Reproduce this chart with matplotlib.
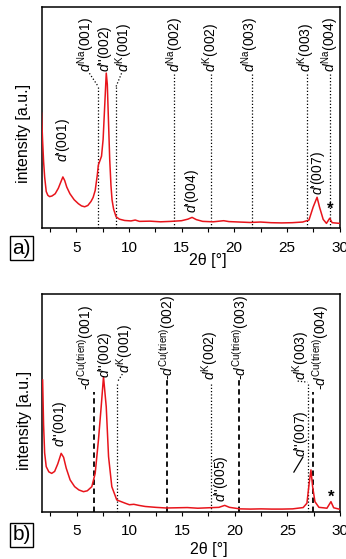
import matplotlib
matplotlib.use('Agg')
import matplotlib.pyplot as plt

plt.rcParams['font.family'] = ['Liberation Sans', 'DejaVu Sans']
plt.rcParams['mathtext.fontset'] = 'custom'
plt.rcParams['mathtext.rm'] = 'Liberation Sans'
plt.rcParams['mathtext.it'] = 'Liberation Sans:italic'

# (a) K-exchanged sample
two_theta_a = [1.7, 1.8, 1.9, 2.0, 2.15, 2.3, 2.47, 2.7, 3.0, 3.3, 3.55, 3.73, 3.9, 4.1,
               4.4, 4.8, 5.2, 5.5, 5.8, 6.1, 6.4, 6.6, 6.8, 7.0, 7.1, 7.25, 7.4, 7.55,
               7.7, 7.85, 7.95, 8.05, 8.18, 8.3, 8.4, 8.55, 8.78, 9.1, 9.6, 10.2, 10.6,
               11.0, 12.0, 13.0, 14.0, 15.0, 15.6, 16.0, 16.4, 17.0, 18.0, 19.0, 19.5,
               20.5, 21.5, 22.5, 23.5, 24.5, 25.5, 26.5, 27.1, 27.5, 27.87, 28.1, 28.45,
               28.76, 29.07, 29.3, 30.0]
intensity_a = [52, 40, 30, 23, 16.5, 14.8, 14.2, 14.5, 15.5, 18, 21, 23.1, 21.5, 18.5,
               15.5, 12.8, 11, 10, 9.6, 10.2, 12, 13.8, 17, 24, 28.5, 30.5, 32.5, 40,
               55, 70.1, 65, 50, 30.8, 19, 12.7, 8.5, 5.1, 4.0, 3.4, 3.2, 3.6,
               3.0, 3.1, 2.8, 3.0, 3.3, 4.0, 4.8, 3.8, 3.0, 2.8, 3.3, 2.9,
               2.7, 2.5, 2.7, 2.4, 2.3, 2.4, 2.7, 3.6, 9.5, 13.9, 9.5, 3.9,
               2.1, 4.4, 2.4, 2.1]

# (b) Cu(trien)-exchanged sample
two_theta_b = [1.76, 1.85, 1.95, 2.1, 2.35, 2.62, 2.9, 3.2, 3.52, 3.75, 4.0, 4.37, 4.8,
               5.2, 5.64, 6.0, 6.43, 6.75, 7.06, 7.32, 7.54, 7.8, 8.02, 8.33, 8.8, 9.6,
               10.0, 10.42, 10.9, 11.5, 12.5, 13.5, 14.5, 15.5, 16.5, 17.5, 18.5, 19.05,
               19.5, 20.5, 21.5, 22.5, 23.5, 24.5, 25.5, 26.5, 26.86, 27.07, 27.24, 27.4,
               27.62, 28.0, 28.4, 28.76, 29.14, 29.4, 30.0]
intensity_b = [60.5, 40, 27, 20.7, 18.3, 17.6, 18.5, 22, 26.8, 25, 20, 14.6, 11.5,
               10, 9.2, 9.6, 11.5, 17.6, 32.9, 48.2, 62, 48.2, 25.3, 11.5, 5.4, 3.9,
               3.2, 3.4, 2.9, 2.4, 2.0, 1.7, 1.8, 1.9, 1.6, 1.8, 2.0, 2.9,
               2.0, 1.3, 1.2, 1.3, 1.2, 1.2, 1.3, 1.9, 3.9, 13, 19.2, 11.5,
               4.6, 2.0, 1.8, 1.6, 4.6, 1.8, 1.1]

# reflection positions (2theta)
na_pos = [7.09, 14.33, 21.69, 29.07]
na_hkl = ['(001)', '(002)', '(003)', '(004)']
k_pos = [8.78, 17.79, 26.92]
k_pos_b = [8.84, 17.79, 26.92]
k_hkl = ['(001)', '(002)', '(003)']
cu_pos = [6.68, 13.53, 20.45, 27.46]
cu_hkl = ['(001)', '(002)', '(003)', '(004)']

fs = 10
red = '#e8141b'

fig = plt.figure(figsize=(3.46, 5.59), dpi=100)
W, H = 346, 559
ax_a = fig.add_axes([41.5 / W, (H - 228) / H, 298 / W, 221 / H])
ax_b = fig.add_axes([42 / W, (H - 511.7) / H, 298 / W, 217.7 / H])

for ax in (ax_a, ax_b):
    ax.set_xlim(1.7, 30)
    ax.set_ylim(0, 100)
    ax.set_yticks([])
    ax.set_xticks([5, 10, 15, 20, 25, 30])
    ax.set_xticks([2.5, 7.5, 12.5, 17.5, 22.5, 27.5], minor=True)
    ax.tick_params(axis='x', which='both', direction='out', length=3, width=0.8,
                   labelsize=11, pad=6)
    for s in ax.spines.values():
        s.set_linewidth(1.1)
    ax.set_ylabel('intensity [a.u.]', fontsize=11.5)
    ax.set_xlabel('2θ [°]', fontsize=11.5)

ax_a.yaxis.set_label_coords(-0.035, 0.43)
ax_a.xaxis.set_label_coords(0.559, -0.115)
ax_b.yaxis.set_label_coords(-0.035, 0.42)
ax_b.xaxis.set_label_coords(0.559, -0.14)

# ---- panel a ----
ax_a.plot(two_theta_a, intensity_a, color=red, lw=1.1, zorder=3)

dot = dict(color='k', ls=(0, (1, 1.6)), lw=0.9)
lab_a = [5.95, 14.39, 21.53, 29.14]
for x, lx, h in zip(na_pos, lab_a, na_hkl):
    if abs(lx - x) < 0.3:
        ax_a.plot([x, x], [0, 70], **dot)
    else:
        ax_a.plot([x, x], [0, 64], **dot)
        ax_a.plot([lx + 0.3, x], [70, 64], **dot)
    ax_a.text(lx, 70.5, r'$\it{d}^{\rm Na}$' + h, rotation=90, ha='center', va='bottom', fontsize=fs)

lab_ka = [9.6, 17.79, 26.86]
for x, lx, h in zip(k_pos, lab_ka, k_hkl):
    if abs(lx - x) < 0.3:
        ax_a.plot([x, x], [0, 70], **dot)
    else:
        ax_a.plot([x, x], [0, 64], **dot)
        ax_a.plot([lx - 0.3, x], [70, 64], **dot)
    ax_a.text(lx, 70.5, r'$\it{d}^{\rm K}$' + h, rotation=90, ha='center', va='bottom', fontsize=fs)

ax_a.text(7.72, 70.5, r"$\it{d}$''(002)", rotation=90, ha='center', va='bottom', fontsize=fs)
ax_a.text(3.73, 30, r"$\it{d}$'(001)", rotation=90, ha='center', va='bottom', fontsize=fs)
ax_a.text(15.95, 6.8, r"$\it{d}$'(004)", rotation=90, ha='center', va='bottom', fontsize=fs)
ax_a.text(27.95, 15, r"$\it{d}$'(007)", rotation=90, ha='center', va='bottom', fontsize=fs)
ax_a.text(29.15, 8.5, '*', ha='center', va='center', fontsize=12, fontweight='bold')

# ---- panel b ----
ax_b.plot(two_theta_b, intensity_b, color=red, lw=1.1, zorder=3)

dash = dict(color='k', ls=(0, (3, 2)), lw=1.3)
lab_cu = [5.83, 13.63, 20.57, 28.19]
bot_cu = [56, 60.5, 60.5, 56]
for x, lx, yb, h in zip(cu_pos, lab_cu, bot_cu, cu_hkl):
    if abs(lx - x) < 0.3:
        ax_b.plot([x, x], [0, yb], **dash)
    else:
        ax_b.plot([x, x], [0, yb - 1], **dash)
    ax_b.text(lx, yb, r'-$\it{d}^{\rm Cu(trien)}$' + h, rotation=90, ha='center',
              va='bottom', fontsize=fs)

lab_kb = [9.63, 17.72, 26.28]
bot_kb = [63.7, 60.5, 60.5]
for x, lx, yb, h in zip(k_pos_b, lab_kb, bot_kb, k_hkl):
    ax_b.plot([x, x], [0, 59.5], **dot)
    if abs(lx - x) > 0.3:
        ax_b.plot([lx - 0.3, x], [yb - 0.5, 59.5], **dot)
    ax_b.text(lx, yb, r'$\it{d}^{\rm K}$' + h, rotation=90, ha='center', va='bottom', fontsize=fs)

ax_b.text(7.73, 61.4, r"$\it{d}$''(002)", rotation=90, ha='center', va='bottom', fontsize=fs)
ax_b.text(3.42, 29.7, r"$\it{d}$''(001)", rotation=90, ha='center', va='bottom', fontsize=fs)
ax_b.text(18.7, 4.5, r"$\it{d}$''(005)", rotation=90, ha='center', va='bottom', fontsize=fs)
ax_b.text(26.3, 25, r"$\it{d}$''(007)", rotation=90, ha='center', va='bottom', fontsize=fs)
ax_b.plot([25.62, 26.48], [18.2, 25.1], color='k', lw=0.9)
ax_b.text(29.2, 6.5, '*', ha='center', va='center', fontsize=12, fontweight='bold')

box = dict(boxstyle='square,pad=0.12', fc='white', ec='k', lw=1.0)
fig.text(21.5 / W, 1 - 248 / H, 'a)', fontsize=15, ha='center', va='center', bbox=box)
fig.text(21.5 / W, 1 - 535 / H, 'b)', fontsize=15, ha='center', va='center', bbox=box)

fig.savefig('out.png', dpi=100)
